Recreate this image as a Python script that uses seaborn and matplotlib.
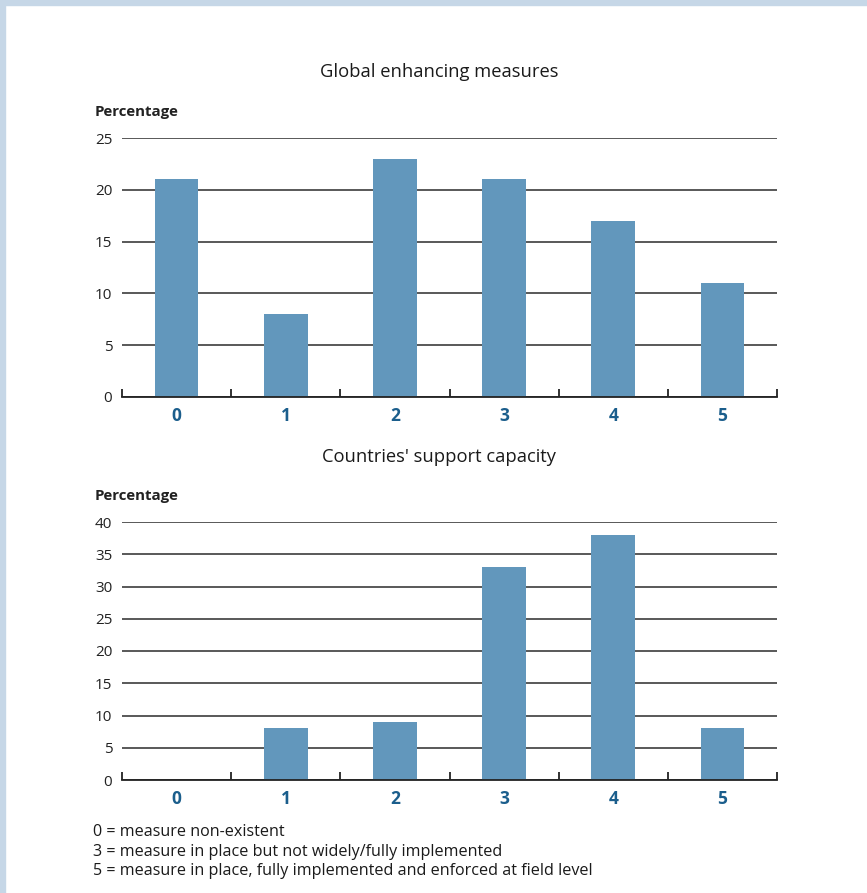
import matplotlib
matplotlib.use("Agg")
import matplotlib.pyplot as plt
import seaborn as sns
import pandas as pd
from matplotlib.patches import Rectangle

# Datos
categories = ["0", "1", "2", "3", "4", "5"]
global_measures = [21, 8, 23, 21, 17, 11]
country_capacity = [0, 8, 9, 33, 38, 8]
footnotes = [
    "0 = measure non-existent",
    "3 = measure in place but not widely/fully implemented",
    "5 = measure in place, fully implemented and enforced at field level",
]

sns.set_style("white")
plt.rcParams["font.family"] = ["Open Sans", "DejaVu Sans"]

BAR = "#6297bc"
LABEL_BLUE = "#1b5e8c"
W, H = 867, 893

fig = plt.figure(figsize=(W / 100, H / 100), dpi=100)

# marco azul claro
fig.patches.append(Rectangle((0, 1 - 5 / H), 1, 5 / H, transform=fig.transFigure,
                             color="#c6d7e7", zorder=0))
fig.patches.append(Rectangle((0, 0), 5 / W, 1, transform=fig.transFigure,
                             color="#c6d7e7", zorder=0))


def draw_panel(ax, values, ymax, title, title_y):
    df = pd.DataFrame({"cat": categories, "val": values})
    sns.barplot(data=df, x="cat", y="val", color=BAR, width=0.4,
                saturation=1, ax=ax, zorder=3, linewidth=0, edgecolor=BAR)
    ax.set_xlim(-0.5, len(categories) - 0.5)
    ax.set_ylim(0, ymax)
    ax.set_yticks(range(0, ymax + 1, 5))
    ax.grid(axis="y", color="#2b2b2b", linewidth=1.1, zorder=1)
    for s in ["left", "right", "top"]:
        ax.spines[s].set_visible(False)
    ax.spines["bottom"].set_color("#222222")
    ax.spines["bottom"].set_linewidth(1.3)
    ax.spines["bottom"].set_zorder(4)
    ax.tick_params(axis="y", length=0, pad=7, labelsize=11, labelcolor="#222222")
    ax.tick_params(axis="x", which="major", length=0, pad=7, labelsize=12.5,
                   labelcolor=LABEL_BLUE)
    for t in ax.get_xticklabels():
        t.set_fontweight("bold")
    ax.set_xticks([i - 0.5 for i in range(len(categories) + 1)], minor=True)
    ax.tick_params(axis="x", which="minor", bottom=True, direction="in", length=6,
                   width=1.3, color="#222222")
    ax.set_xlabel("")
    ax.set_ylabel("")
    fig.text(439 / W, 1 - title_y / H, title, ha="center", va="center",
             fontsize=13.2, color="#1a1a1a")


ax1 = fig.add_axes([122 / W, 1 - 397 / H, 655 / W, (397 - 138) / H])
draw_panel(ax1, global_measures, 25, "Global enhancing measures", 72)
fig.text(95 / W, 1 - 112 / H, "Percentage", ha="left", va="center",
         fontsize=10.8, fontweight="bold", color="#222222")

ax2 = fig.add_axes([122 / W, 1 - 780 / H, 655 / W, (780 - 522) / H])
draw_panel(ax2, country_capacity, 40, "Countries' support capacity", 457)
fig.text(95 / W, 1 - 496 / H, "Percentage", ha="left", va="center",
         fontsize=10.8, fontweight="bold", color="#222222")

for i, line in enumerate(footnotes):
    fig.text(93 / W, 1 - (832 + 19.5 * i) / H, line, ha="left", va="center",
             fontsize=11.6, color="#1a1a1a")

fig.savefig("out.png", dpi=100, facecolor="white")
